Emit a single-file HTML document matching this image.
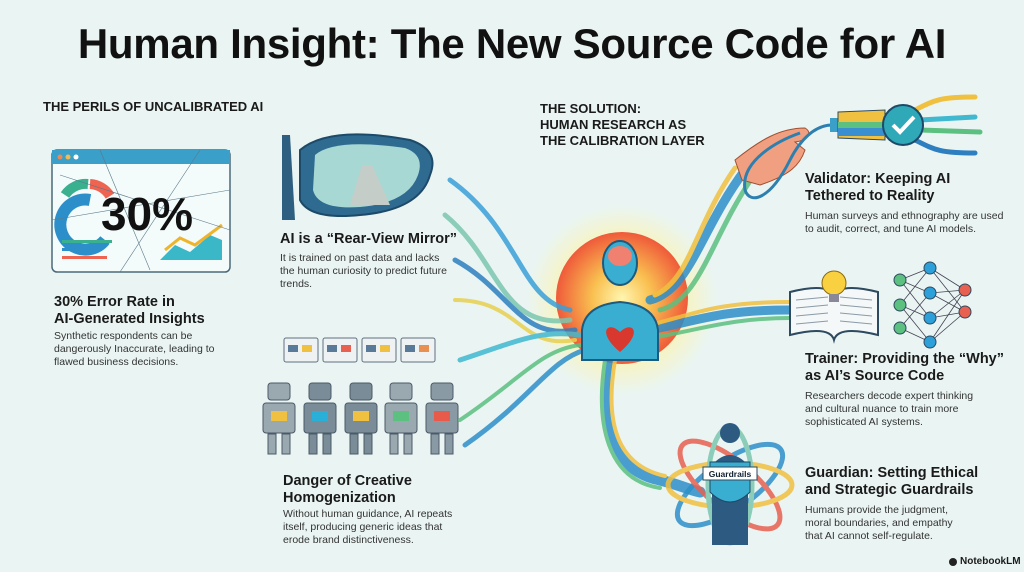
<!DOCTYPE html>
<html><head><meta charset="utf-8"><style>
body{margin:0;width:1024px;height:572px;overflow:hidden;background:#eaf5f3;font-family:"Liberation Sans",sans-serif;color:#1a1a1a;position:relative}
.a{position:absolute}
h1{position:absolute;left:0;width:1024px;top:20px;margin:0;text-align:center;font-size:42px;font-weight:bold;letter-spacing:-0.3px;color:#111}
.h{font-size:13px;font-weight:bold;line-height:16px}
.t{font-size:14.5px;font-weight:bold;line-height:17px}
.b{font-size:10.5px;line-height:12.8px;color:#333}
</style></head><body>
<h1>Human Insight: The New Source Code for AI</h1>
<svg class="a" style="left:0;top:0" width="1024" height="572">
<defs><radialGradient id="g" cx="50%" cy="50%" r="50%"><stop offset="0" stop-color="#fff6b0"/><stop offset=".45" stop-color="#f9c050"/><stop offset="1" stop-color="#ef5a3a"/></radialGradient>
<radialGradient id="glow" cx="50%" cy="50%" r="50%"><stop offset=".6" stop-color="#fff3a0" stop-opacity=".7"/><stop offset="1" stop-color="#fff3a0" stop-opacity="0"/></radialGradient></defs>
<!-- dashboard -->
<rect x="52" y="150" width="178" height="122" rx="5" fill="#f4fbfb" stroke="#4a6a7a" stroke-width="1.5"/>
<rect x="52" y="150" width="178" height="14" fill="#3a9fc9"/>
<circle cx="60" cy="157" r="2.5" fill="#e85"/><circle cx="68" cy="157" r="2.5" fill="#eb5"/><circle cx="76" cy="157" r="2.5" fill="#fff"/>
<path d="M90 200 A25 25 0 1 0 105 240" fill="none" stroke="#2d8fc9" stroke-width="12"/>
<path d="M65 195 A25 25 0 0 1 88 184" fill="none" stroke="#3bb08f" stroke-width="10"/>
<path d="M90 184 A25 25 0 0 1 110 196" fill="none" stroke="#ef6450" stroke-width="10"/>
<path d="M160 260 L175 245 L190 252 L210 235 L222 240 L222 260Z" fill="#3bb8c8"/>
<path d="M165 250 L180 238 L195 245 L222 225" fill="none" stroke="#f0b42a" stroke-width="3"/>
<rect x="62" y="240" width="50" height="3" fill="#3bb08f"/><rect x="62" y="248" width="40" height="3" fill="#2d8fc9"/><rect x="62" y="256" width="45" height="3" fill="#ef6450"/>
<path d="M60 175 L230 230 M100 150 L150 270 M200 150 L120 272 M52 220 L230 190" stroke="#5a7a8a" stroke-width=".6"/>
<text x="147" y="230" font-family="Liberation Sans" font-weight="bold" font-size="46" text-anchor="middle" fill="#111">30%</text>
<!-- mirror -->
<path d="M282 135 L290 135 L295 220 L282 220Z" fill="#2f5f80"/>
<path d="M300 150 Q330 125 410 140 Q440 150 430 175 Q420 210 360 215 Q310 220 300 200Z" fill="#2f6a90" stroke="#1d4a68" stroke-width="2"/>
<path d="M315 155 Q335 138 405 148 Q425 155 418 175 Q408 203 360 207 Q318 210 313 190Z" fill="#a8d8d4"/>
<path d="M350 205 L362 165 L372 165 L390 205Z" fill="#c4cdc8"/>
<!-- bubbles -->
<g fill="#eef2f2" stroke="#607080" stroke-width="1">
<rect x="284" y="338" width="34" height="24" rx="2"/><rect x="323" y="338" width="34" height="24" rx="2"/><rect x="362" y="338" width="34" height="24" rx="2"/><rect x="401" y="338" width="34" height="24" rx="2"/></g>
<g><rect x="288" y="345" width="10" height="7" fill="#5a7a9a"/><rect x="302" y="345" width="10" height="7" fill="#f0c040"/>
<rect x="327" y="345" width="10" height="7" fill="#5a7a9a"/><rect x="341" y="345" width="10" height="7" fill="#e86050"/>
<rect x="366" y="345" width="10" height="7" fill="#5a7a9a"/><rect x="380" y="345" width="10" height="7" fill="#f0c040"/>
<rect x="405" y="345" width="10" height="7" fill="#5a7a9a"/><rect x="419" y="345" width="10" height="7" fill="#e89050"/></g>
<!-- robots -->
<g stroke="#4a5a68" stroke-width="1">
<g fill="#9aa8b0"><rect x="268" y="383" width="22" height="17" rx="3"/><rect x="263" y="403" width="32" height="30" rx="3"/><rect x="268" y="434" width="8" height="20"/><rect x="282" y="434" width="8" height="20"/></g>
<g fill="#7a8c98"><rect x="309" y="383" width="22" height="17" rx="3"/><rect x="304" y="403" width="32" height="30" rx="3"/><rect x="309" y="434" width="8" height="20"/><rect x="323" y="434" width="8" height="20"/></g>
<g fill="#7a8c98"><rect x="350" y="383" width="22" height="17" rx="3"/><rect x="345" y="403" width="32" height="30" rx="3"/><rect x="350" y="434" width="8" height="20"/><rect x="364" y="434" width="8" height="20"/></g>
<g fill="#9aa8b0"><rect x="390" y="383" width="22" height="17" rx="3"/><rect x="385" y="403" width="32" height="30" rx="3"/><rect x="390" y="434" width="8" height="20"/><rect x="404" y="434" width="8" height="20"/></g>
<g fill="#8a9aa4"><rect x="431" y="383" width="22" height="17" rx="3"/><rect x="426" y="403" width="32" height="30" rx="3"/><rect x="431" y="434" width="8" height="20"/><rect x="445" y="434" width="8" height="20"/></g>
</g>
<rect x="271" y="411" width="16" height="10" fill="#f0c040"/><rect x="312" y="411" width="16" height="10" fill="#2ab0d8"/><rect x="353" y="411" width="16" height="10" fill="#f0c040"/><rect x="393" y="411" width="16" height="10" fill="#5cc080"/><rect x="434" y="411" width="16" height="10" fill="#e85a4a"/>
<!-- glow & circle -->
<circle cx="622" cy="300" r="95" fill="url(#glow)"/>
<circle cx="622" cy="298" r="66" fill="url(#g)"/>
<!-- streams -->
<g fill="none" stroke-linecap="round" opacity=".85">
<path d="M450 180 C520 230 520 300 570 310" stroke="#3aa0d8" stroke-width="5"/>
<path d="M445 215 C500 260 500 330 570 320" stroke="#7cc7b0" stroke-width="5"/>
<path d="M455 260 C510 290 520 340 575 330" stroke="#2d7fc0" stroke-width="5"/>
<path d="M455 300 C520 300 520 350 575 340" stroke="#e8d050" stroke-width="4"/>
<path d="M460 360 C520 340 540 330 580 335" stroke="#40b8d0" stroke-width="5"/>
<path d="M460 420 C520 380 540 350 580 345" stroke="#5cc080" stroke-width="4"/>
<path d="M465 445 C530 400 550 360 585 350" stroke="#2d8fc9" stroke-width="5"/>
<path d="M650 300 C690 290 700 230 745 170" stroke="#2d8fc9" stroke-width="9"/>
<path d="M655 295 C690 280 695 225 735 168" stroke="#f0c040" stroke-width="5"/>
<path d="M660 310 C700 300 710 240 752 178" stroke="#5cc080" stroke-width="5"/>
<path d="M650 330 C700 320 720 310 790 310" stroke="#2d8fc9" stroke-width="9"/>
<path d="M650 325 C700 312 720 302 790 302" stroke="#f0c040" stroke-width="4"/>
<path d="M650 338 C700 330 730 318 790 318" stroke="#5cc080" stroke-width="4"/>
<path d="M610 360 C600 420 610 470 660 480 C680 485 690 490 700 492" stroke="#2d8fc9" stroke-width="11"/>
<path d="M615 360 C605 420 615 465 665 476" stroke="#f0c040" stroke-width="4"/>
<path d="M605 360 C595 425 608 480 660 488" stroke="#5cc080" stroke-width="4"/>
</g>
<!-- figure -->
<path d="M582 360 L582 330 Q585 305 620 302 Q655 305 658 330 L658 360Z" fill="#3aaed0" stroke="#1d5a80" stroke-width="2"/>
<ellipse cx="620" cy="263" rx="17" ry="22" fill="#3aaed0" stroke="#1d5a80" stroke-width="2"/>
<ellipse cx="620" cy="256" rx="12" ry="10" fill="#f08070"/>
<path d="M620 332 C608 320 596 332 620 352 C644 332 632 320 620 332Z" fill="#d8382e"/>
<!-- hand/cable -->
<path d="M735 160 C760 140 780 128 805 128 C812 132 810 140 795 142 L805 150 C800 165 790 175 760 185 L742 180Z" fill="#f0a080" stroke="#a05030"/>
<path d="M800 133 C780 140 740 160 745 190 C750 205 770 200 790 160 C800 140 815 125 832 125" fill="none" stroke="#2d7fb0" stroke-width="3"/>
<rect x="830" y="118" width="8" height="14" fill="#3a9fc9"/>
<path d="M838 112 L885 110 L885 140 L838 138Z" fill="#f0c040" stroke="#2d4a60"/>
<rect x="838" y="122" width="47" height="6" fill="#5cc080"/><rect x="838" y="128" width="47" height="8" fill="#3a8fd0"/>
<g stroke-width="5" fill="none" stroke-linecap="round"><path d="M915 110 C935 100 940 97 975 97" stroke="#f0c040"/><path d="M920 120 L975 117" stroke="#40b8d0"/><path d="M920 130 L980 132" stroke="#5cc080"/><path d="M915 140 C935 150 940 153 975 153" stroke="#2d7fc0"/></g>
<circle cx="903" cy="125" r="20" fill="#2fa8b8" stroke="#1d4a68" stroke-width="2"/>
<path d="M893 125 L900 132 L914 117" stroke="#fff" stroke-width="4" fill="none"/>
<!-- book -->
<path d="M790 292 Q830 282 834 297 Q838 282 878 292 L878 335 Q838 325 834 340 Q830 325 790 335Z" fill="#f4f8f8" stroke="#2d4a60" stroke-width="2"/>
<g stroke="#8a9aa8" stroke-width="1"><path d="M796 300 L828 297 M796 308 L828 305 M796 316 L828 313 M796 324 L828 321 M840 297 L872 300 M840 305 L872 308 M840 313 L872 316 M840 321 L872 324"/></g>
<circle cx="834" cy="283" r="12" fill="#f8d040" stroke="#8a6a10"/>
<rect x="829" y="294" width="10" height="8" fill="#889"/>
<g stroke="#445" stroke-width=".8" fill="none"><path d="M900 280 L930 268 L965 290 M900 280 L930 293 L965 312 M900 305 L930 268 M900 305 L930 318 L965 290 M900 328 L930 293 L965 312 M900 328 L930 342 L965 312 M930 318 L965 312 M930 342 L965 290 M900 305 L930 342 M900 280 L930 318 M930 268 L965 312 M930 293 L965 290"/></g>
<g stroke="#2d4a60"><circle cx="900" cy="280" r="6" fill="#5cc080"/><circle cx="900" cy="305" r="6" fill="#5cc080"/><circle cx="900" cy="328" r="6" fill="#5cc080"/><circle cx="930" cy="268" r="6" fill="#2d9fd9"/><circle cx="930" cy="293" r="6" fill="#2d9fd9"/><circle cx="930" cy="318" r="6" fill="#2d9fd9"/><circle cx="930" cy="342" r="6" fill="#2d9fd9"/><circle cx="965" cy="290" r="6" fill="#e86050"/><circle cx="965" cy="312" r="6" fill="#e86050"/></g>
<!-- guardian -->
<g fill="none" stroke-width="5" opacity=".85"><ellipse cx="730" cy="485" rx="62" ry="24" stroke="#2d8fc9" transform="rotate(-35 730 485)"/><ellipse cx="730" cy="485" rx="62" ry="24" stroke="#e86050" transform="rotate(40 730 485)"/><ellipse cx="730" cy="485" rx="62" ry="22" stroke="#f0c040"/><ellipse cx="730" cy="485" rx="22" ry="58" stroke="#7cc7b0"/></g>
<circle cx="730" cy="433" r="10" fill="#2d5a80"/>
<path d="M712 545 L712 465 Q730 445 748 465 L748 545Z" fill="#2d5a80"/>
<path d="M710 462 L750 462 L750 492 Q730 512 710 492Z" fill="#3aaed0" stroke="#1d4a68"/>
<rect x="703" y="467" width="54" height="13" fill="#fff" stroke="#2d4a60"/>
<text x="730" y="477" font-size="8.5" font-weight="bold" text-anchor="middle" fill="#102030" font-family="Liberation Sans">Guardrails</text>
<circle cx="953" cy="562" r="4" fill="#222"/>
</svg>
<div class="a h" style="left:43px;top:99px">THE PERILS OF UNCALIBRATED AI</div>
<div class="a t" style="left:54px;top:294px">30% Error Rate in<br>AI-Generated Insights</div>
<div class="a b" style="left:54px;top:330px">Synthetic respondents can be<br>dangerously Inaccurate, leading to<br>flawed business decisions.</div>
<div class="a t" style="left:280px;top:231px">AI is a “Rear-View Mirror”</div>
<div class="a b" style="left:280px;top:252px">It is trained on past data and lacks<br>the human curiosity to predict future<br>trends.</div>
<div class="a t" style="left:283px;top:473px">Danger of Creative<br>Homogenization</div>
<div class="a b" style="left:283px;top:508px">Without human guidance, AI repeats<br>itself, producing generic ideas that<br>erode brand distinctiveness.</div>
<div class="a h" style="left:540px;top:101px">THE SOLUTION:<br>HUMAN RESEARCH AS<br>THE CALIBRATION LAYER</div>
<div class="a t" style="left:805px;top:171px">Validator: Keeping AI<br>Tethered to Reality</div>
<div class="a b" style="left:805px;top:210px">Human surveys and ethnography are used<br>to audit, correct, and tune AI models.</div>
<div class="a t" style="left:805px;top:351px">Trainer: Providing the “Why”<br>as AI’s Source Code</div>
<div class="a b" style="left:805px;top:390px">Researchers decode expert thinking<br>and cultural nuance to train more<br>sophisticated AI systems.</div>
<div class="a t" style="left:805px;top:465px">Guardian: Setting Ethical<br>and Strategic Guardrails</div>
<div class="a b" style="left:805px;top:504px">Humans provide the judgment,<br>moral boundaries, and empathy<br>that AI cannot self-regulate.</div>
<div class="a" style="left:960px;top:556px;font-size:10px;font-weight:bold">NotebookLM</div>
</body></html>
